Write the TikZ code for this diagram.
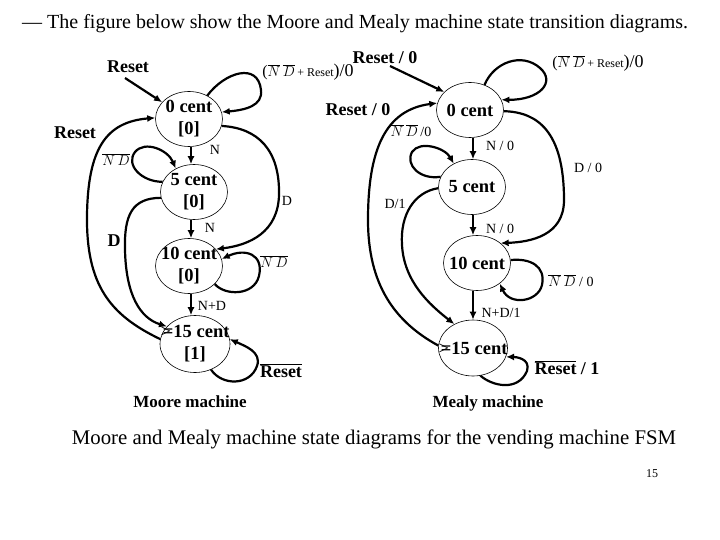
\documentclass[tikz,border=0pt]{standalone}
\usepackage{fontspec}
\setmainfont{Liberation Serif}
\usetikzlibrary{shapes.geometric,arrows.meta}
\tikzset{
  st/.style={draw, line width=0.6pt, ellipse, minimum width=67pt, minimum height=55pt, inner sep=0pt},
  stt/.style={font=\bfseries\fontsize{18.5}{22}\selectfont, align=center, inner sep=0pt},
  arr/.style={line width=2.2pt, -{Latex[length=8pt,width=7pt]}},
  lbl/.style={font=\fontsize{14}{16}\selectfont, inner sep=0pt},
  blbl/.style={font=\bfseries\fontsize{18}{20}\selectfont, inner sep=0pt},
}
\begin{document}
\begin{tikzpicture}[x=1pt,y=-1pt]
\useasboundingbox (0,0) rectangle (720,540);
% titles
\node[anchor=west, font=\fontsize{20}{22}\selectfont, inner sep=0pt] (title) at (22,24) {--- The figure below show the Moore and Mealy machine state transition diagrams.};
\node[font=\fontsize{20.8}{22}\selectfont, inner sep=0pt] (cap) at (374,439) {Moore and Mealy machine state diagrams for the vending machine FSM};
\node[font=\fontsize{12}{14}\selectfont, inner sep=0pt] (pg) at (652,474) {15};

% ---------------- Moore ----------------
\node[st, label={[stt]center:{0 cent\\{[0]}}}] (m0) at (189,119) {};
\node[st, label={[stt]center:{5 cent\\{[0]}}}] (m5) at (194,192) {};
\node[st, label={[stt]center:{10 cent\\{[0]}}}] (m10) at (189,266) {};
\node[st, minimum width=70pt, minimum height=57pt, label={[stt]center:{{\mdseries>}\kern-8pt=15 cent\\{[1]}}}] (m15) at (195,344) {};
\coordinate (ax) at (191,0);

\node[blbl] (rm) at (128,67) {Reset};
\coordinate (rm0) at (125,78);
\draw[arr] (rm0) -- (m0.148);

\node[font=\fontsize{14}{16}\selectfont, inner sep=0pt] (lm0) at (308,72) {{\fontsize{16}{16}\selectfont(}$\overline{N}\,\overline{D}$\,{\fontsize{12}{12}\selectfont+ Reset}{\fontsize{18}{18}\selectfont)/0}};
\draw[arr] (m0.52) .. controls (225,72) and (258,62) .. (261,90) .. controls (263,106) and (245,110) .. (m0.12);

\node[blbl] (lrm) at (75,133) {Reset};
\draw[arr] (m15.172) .. controls (110,315) and (86,285) .. (87,215) .. controls (88,150) and (105,122) .. (m0.178);

\draw[arr] (ax |- m0.south) -- (ax |- m5.north);
\node[lbl] (lmn1) at (215,150) {N};

\draw[arr] (m0.-12) .. controls (258,128) and (280,150) .. (279,195) .. controls (278,232) and (250,245) .. (m10.32);
\node[lbl] (lmd1) at (287,201) {D};

\node[lbl] (lmnd1) at (116,160) {$\overline{N\,D}$};
\draw[arr] (m5.162) .. controls (142,182) and (125,165) .. (135,152) .. controls (145,140) and (168,150) .. (m5.128);

\draw[arr] (m5.190) .. controls (132,198) and (124,215) .. (125,250) .. controls (126,295) and (140,318) .. (m15.148);
\node[blbl] (lmd2) at (114,241) {D};

\draw[arr] (ax |- m5.south) -- (ax |- m10.north);
\node[lbl] (lmn2) at (210,228) {N};

\draw[arr] (m10.-35) .. controls (225,296) and (254,296) .. (259,276) .. controls (264,254) and (245,248) .. (m10.12);
\node[lbl] (lmnd2) at (274,262) {$\overline{N\,D}$};

\draw[arr] (ax |- m10.south) -- (ax |- m15.north);
\node[lbl] (lmnd3) at (212,306) {N+D};

\draw[arr] (m15.-58) .. controls (222,386) and (250,386) .. (257,366) .. controls (262,352) and (245,346) .. (m15.8);
\node[blbl] (lmr) at (281,371) {$\overline{\mbox{Reset}}$};

\node[font=\bfseries\fontsize{17}{19}\selectfont, inner sep=0pt] (moore) at (190,402) {Moore machine};

% ---------------- Mealy ----------------
\node[st, label={[stt]center:{0 cent}}] (c0) at (470,110) {};
\node[st, label={[stt]center:{5 cent}}] (c5) at (472,187) {};
\node[st, label={[stt]center:{10 cent}}] (c10) at (477,263) {};
\node[st, minimum width=69pt, minimum height=56pt, label={[stt]center:{{\mdseries>}\kern-8pt=15 cent}}] (c15) at (473,348) {};
\coordinate (bx) at (473,0);

\node[blbl] (rc) at (385,58) {Reset / 0};
\coordinate (rc0) at (390,66);
\draw[arr] (rc0) -- (c0.145);

\node[font=\fontsize{14}{16}\selectfont, inner sep=0pt] (lc0) at (598,63) {{\fontsize{16}{16}\selectfont(}$\overline{N}\,\overline{D}$\,{\fontsize{12}{12}\selectfont+ Reset}{\fontsize{18}{18}\selectfont)/0}};
\draw[arr] (c0.60) .. controls (494,62) and (522,52) .. (540,68) .. controls (556,82) and (540,100) .. (c0.18);

\node[blbl] (lrc) at (358,110) {Reset / 0};
\draw[arr] (c15.176) .. controls (395,322) and (368,285) .. (368,220) .. controls (368,150) and (385,110) .. (c0.168);

\draw[arr] (bx |- c0.south) -- (bx |- c5.north);
\node[lbl] (lcn1) at (500,146) {N / 0};

\node[lbl] (lcnd1) at (411,131) {$\overline{N}\,\overline{D}\,$/0};
\draw[arr] (c5.162) .. controls (420,180) and (405,165) .. (412,152) .. controls (420,140) and (445,148) .. (c5.128);

\draw[arr] (c0.-2) .. controls (538,112) and (564,132) .. (564,200) .. controls (564,236) and (530,242) .. (c10.40);
\node[lbl] (lcd1) at (588,168) {D / 0};

\draw[arr] (c5.182) .. controls (414,192) and (400,215) .. (402,245) .. controls (404,282) and (430,305) .. (c15.128);
\node[lbl] (lcd2) at (395,204) {D/1};

\draw[arr] (bx |- c5.south) -- (bx |- c10.north);
\node[lbl] (lcn2) at (500,229) {N / 0};

\draw[arr] (c10.5) .. controls (530,258) and (546,266) .. (542,285) .. controls (538,302) and (510,306) .. (c10.-42);
\node[lbl] (lcnd2) at (571,281) {$\overline{N}\,\overline{D}$ / 0};

\draw[arr] (bx |- c10.south) -- (bx |- c15.north);
\node[lbl] (lcnd3) at (501,313) {N+D/1};

\draw[arr] (c15.-75) .. controls (492,386) and (518,392) .. (527,371) .. controls (531,358) and (515,357) .. (c15.-15);
\node[blbl] (lcr) at (567,368) {$\overline{\mbox{Reset}}$ / 1};

\node[font=\bfseries\fontsize{17}{19}\selectfont, inner sep=0pt] (mealy) at (488,403) {Mealy machine};
\end{tikzpicture}
\end{document}
